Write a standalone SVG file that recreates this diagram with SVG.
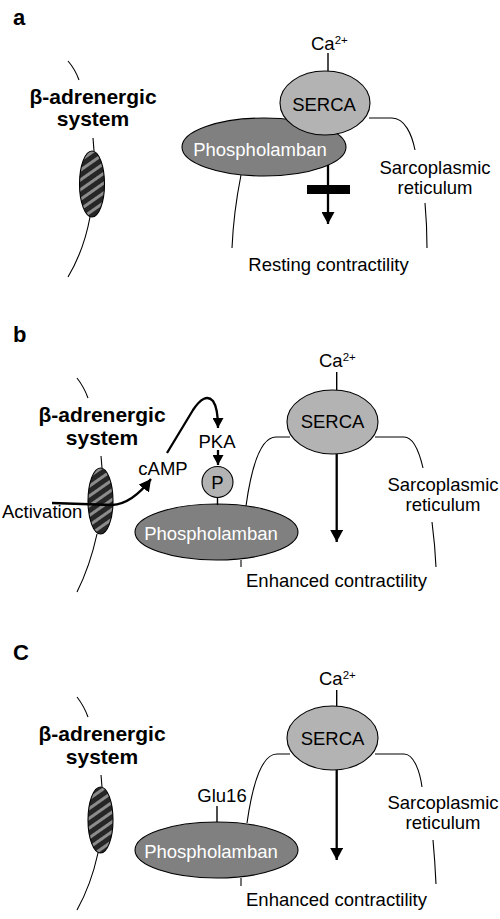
<svg xmlns="http://www.w3.org/2000/svg" width="500" height="919" viewBox="0 0 500 919">
<style>
text{font-family:"Liberation Sans",Arial,sans-serif;fill:#000}
.lbl{font-size:22px;font-weight:bold}
.beta{font-size:21px;font-weight:bold;text-anchor:middle}
.t{font-size:18.5px}
.m{text-anchor:middle}
.w{fill:#fff}
.sup{font-size:11.5px}
.mem{fill:none;stroke:#000;stroke-width:1.1}
.arr{fill:none;stroke:#000;stroke-width:2.3}
.serca{fill:#b3b3b3;stroke:#000;stroke-width:1.1}
.plb{fill:#808080;stroke:#000;stroke-width:1.1}
.rec{fill:url(#hatch);stroke:#000;stroke-width:1.1}
</style>
<defs>
<pattern id="hatch" patternUnits="userSpaceOnUse" width="8" height="8" patternTransform="rotate(-35)">
<rect width="8" height="8" fill="#262626"/>
<rect y="0" width="8" height="3" fill="#8c8c8c"/>
</pattern>
<marker id="ah" markerUnits="userSpaceOnUse" viewBox="0 0 12 13" refX="12" refY="6.5" markerWidth="12" markerHeight="13" orient="auto">
<path d="M0,0 L12,6.5 L0,13 Z" fill="#000"/>
</marker>
<marker id="ahs" markerUnits="userSpaceOnUse" viewBox="0 0 10 11" refX="10" refY="5.5" markerWidth="10" markerHeight="11" orient="auto">
<path d="M0,0 L10,5.5 L0,11 Z" fill="#000"/>
</marker>
</defs>

<!-- Panel a -->
<text class="lbl" x="13" y="25">a</text>
<g id="a-beta">
<text class="beta" x="93" y="104">β-adrenergic</text>
<text class="beta" x="93" y="126">system</text>
<ellipse class="rec" cx="92" cy="184" rx="12.5" ry="33"/>
</g>
<g id="a-serca-complex">
<ellipse class="plb" cx="264" cy="147" rx="82" ry="29"/>
<ellipse class="serca" cx="325" cy="103" rx="45" ry="32"/>
<text class="t m" x="324" y="111">SERCA</text>
<text class="t m w" x="260" y="156">Phospholamban</text>
</g>
<g id="a-labels">
<text class="t" x="311" y="50">Ca<tspan class="sup" dy="-6">2+</tspan></text>
<text class="t m" x="435" y="174">Sarcoplasmic</text>
<text class="t m" x="435" y="193.5">reticulum</text>
<text class="t m" x="328.5" y="271">Resting contractility</text>
</g>
<g id="a-connectors">
<path class="mem" d="M68,61 Q75,69 79,80"/>
<path class="mem" d="M93,138 L94,151"/>
<path class="mem" d="M90,217 Q84,250 68,277"/>
<path class="mem" d="M241,175 C236,200 233,225 232,248"/>
<path class="mem" d="M369,118 L392,118 C405,118 412,135 415,150"/>
<path class="mem" d="M425,203 Q427,225 427,248"/>
<path class="mem" d="M328,53 L328,71" style="stroke-width:1.4"/>
<path class="arr" d="M328,165 L328,224" marker-end="url(#ah)"/>
<rect x="307" y="185" width="43" height="9" fill="#000"/>
</g>

<!-- Panel b -->
<text class="lbl" x="13" y="342">b</text>
<g id="b-beta">
<text class="beta" x="102" y="422">β-adrenergic</text>
<text class="beta" x="102" y="445">system</text>
<ellipse class="rec" cx="100.5" cy="501" rx="12.5" ry="33"/>
</g>
<g id="b-plb">
<ellipse class="plb" cx="216.5" cy="532" rx="81.5" ry="28"/>
<text class="t m w" x="211" y="540">Phospholamban</text>
</g>
<g id="b-p">
<circle class="serca" cx="217.5" cy="482" r="15.5"/>
<text class="t m" x="217.5" y="489">P</text>
</g>
<g id="b-serca">
<ellipse class="serca" cx="332.5" cy="422" rx="45.5" ry="32"/>
<text class="t m" x="332.5" y="428">SERCA</text>
</g>
<g id="b-labels">
<text class="t" x="2" y="518">Activation</text>
<text class="t m" x="163" y="475">cAMP</text>
<text class="t m" x="217" y="448">PKA</text>
<text class="t" x="319" y="367">Ca<tspan class="sup" dy="-6">2+</tspan></text>
<text class="t m" x="443" y="491">Sarcoplasmic</text>
<text class="t m" x="443" y="510.5">reticulum</text>
<text class="t m" x="336.5" y="587">Enhanced contractility</text>
</g>
<g id="b-connectors">
<path class="mem" d="M77,378 Q84,387 88,398"/>
<path class="mem" d="M101,456 L102,468"/>
<path class="mem" d="M97,534 Q90,566 77,592"/>
<path class="mem" d="M290,437 L276,437 C260,437 251,470 246,506"/>
<path class="mem" d="M375,437 L404,437 C414,437 420,455 423,468"/>
<path class="mem" d="M432,522 Q435,545 436,567"/>
<path class="mem" d="M241,560 L241,567"/>
<path class="mem" d="M217.5,497.5 L217.5,505" style="stroke-width:1.4"/>
<path class="mem" d="M336.7,372 L336.7,390" style="stroke-width:1.4"/>
<path class="arr" d="M52,503 L112,505 Q132,504 151,479" marker-end="url(#ah)"/>
<path class="arr" d="M167,453 L193,410 Q205,392 213,401 Q218,408 218,428" marker-end="url(#ahs)"/>
<path class="arr" d="M218,450 L218,465" marker-end="url(#ahs)"/>
<path class="arr" d="M336.7,454 L336.7,542" marker-end="url(#ah)"/>
</g>

<!-- Panel c -->
<text class="lbl" x="13" y="660">C</text>
<g id="c-beta">
<text class="beta" x="102" y="741">β-adrenergic</text>
<text class="beta" x="102" y="764">system</text>
<ellipse class="rec" cx="100.5" cy="820" rx="12.5" ry="33"/>
</g>
<g id="c-plb">
<ellipse class="plb" cx="216.5" cy="850" rx="81.5" ry="28"/>
<text class="t m w" x="211" y="858">Phospholamban</text>
</g>
<g id="c-serca">
<ellipse class="serca" cx="332.5" cy="738" rx="45.5" ry="32"/>
<text class="t m" x="332.5" y="745">SERCA</text>
</g>
<g id="c-labels">
<text class="t m" x="222" y="802">Glu16</text>
<text class="t" x="319" y="685">Ca<tspan class="sup" dy="-6">2+</tspan></text>
<text class="t m" x="443" y="809">Sarcoplasmic</text>
<text class="t m" x="443" y="828.5">reticulum</text>
<text class="t m" x="336.5" y="906">Enhanced contractility</text>
</g>
<g id="c-connectors">
<path class="mem" d="M77,697 Q84,706 88,717"/>
<path class="mem" d="M101,775 L102,787"/>
<path class="mem" d="M98,853 Q91,885 77,910"/>
<path class="mem" d="M290,754 L277,754 C261,754 252,788 247,823"/>
<path class="mem" d="M375,754 L404,754 C414,754 420,772 422,787"/>
<path class="mem" d="M433,840 Q435,862 436,884"/>
<path class="mem" d="M241,878 L241,886"/>
<path class="mem" d="M217,806 L217,822" style="stroke-width:1.4"/>
<path class="mem" d="M336.7,690 L336.7,706" style="stroke-width:1.4"/>
<path class="arr" d="M336.7,770 L336.7,860" marker-end="url(#ah)"/>
</g>
</svg>
